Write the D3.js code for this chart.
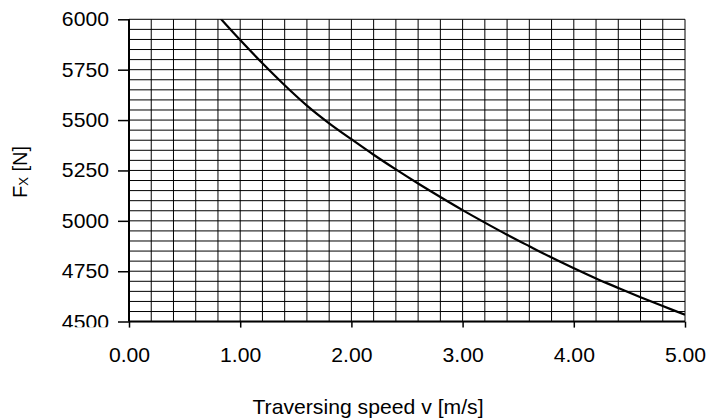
<!DOCTYPE html>
<html>
<head>
<meta charset="utf-8">
<script src="https://cdn.jsdelivr.net/npm/d3@7"></script>
<style>
  html, body { margin: 0; padding: 0; background: #fff; }
  svg { display: block; }
  text { font-family: "Liberation Sans", Arial, sans-serif; fill: #000; }
</style>
</head>
<body>
<svg id="chart" width="726" height="418"></svg>
<script>
// ---- data ----
const speeds = [0.8, 1.0, 1.2, 1.4, 1.6, 1.8, 2.0, 2.2, 2.4, 2.6, 2.8, 3.0,
                3.2, 3.4, 3.6, 3.8, 4.0, 4.2, 4.4, 4.6, 4.8, 5.0];
const forces = [6018, 5897, 5782, 5673, 5572, 5484, 5405, 5328, 5255, 5185, 5118, 5053,
                4991, 4931, 4874, 4818, 4765, 4714, 4667, 4621, 4577, 4534];
const xTicks = [0, 1, 2, 3, 4, 5];
const yTicks = [4500, 4750, 5000, 5250, 5500, 5750, 6000];
const xTitle = "Traversing speed v [m/s]";

(function () {
// ---- layout ----
const svg = d3.select("#chart");
const pLeft = 129, pRight = 685, pTop = 19.3, pBottom = 321.6;
const x = d3.scaleLinear().domain([0, 5]).range([pLeft, pRight]);
const y = d3.scaleLinear().domain([4500, 6000]).range([pBottom, pTop]);
const fontSize = 20, stretch = 1.06;

// grid
const vGrid = d3.range(0, 5.0001, 0.2);
const hGrid = d3.range(4500, 6000.01, 50);
const grid = svg.append("g").attr("stroke", "#000").attr("stroke-width", 1);
grid.selectAll("line.v").data(vGrid).join("line").attr("class", "v")
  .attr("x1", d => x(d)).attr("x2", d => x(d))
  .attr("y1", pTop).attr("y2", pBottom);
grid.selectAll("line.h").data(hGrid).join("line").attr("class", "h")
  .attr("x1", pLeft).attr("x2", pRight)
  .attr("y1", d => y(d)).attr("y2", d => y(d));

// curve
svg.append("clipPath").attr("id", "plotClip")
  .append("rect").attr("x", pLeft).attr("y", pTop)
  .attr("width", pRight - pLeft).attr("height", pBottom - pTop);
const line = d3.line()
  .x((d, i) => x(speeds[i]))
  .y(d => y(d))
  .curve(d3.curveCatmullRom.alpha(0.5));
svg.append("path")
  .datum(forces)
  .attr("clip-path", "url(#plotClip)")
  .attr("fill", "none")
  .attr("stroke", "#000")
  .attr("stroke-width", 2.2)
  .attr("d", line);

// axes
const yAxis = d3.axisLeft(y).tickValues(yTicks).tickSize(11).tickPadding(9)
  .tickFormat(d3.format("d"));
const xAxis = d3.axisBottom(x).tickValues(xTicks).tickSize(6).tickPadding(20)
  .tickFormat(d3.format(".2f"));

svg.append("clipPath").attr("id", "yLabClip")
  .append("rect").attr("x", -140).attr("y", 0).attr("width", 150).attr("height", 327.3);

const gy = svg.append("g").attr("transform", `translate(${pLeft},0)`).call(yAxis)
  .attr("clip-path", "url(#yLabClip)");
const gx = svg.append("g").attr("transform", `translate(0,${pBottom})`).call(xAxis);

[gx, gy].forEach(g => {
  g.select(".domain").attr("stroke", "#000").attr("stroke-width", 2);
  g.selectAll(".tick line").attr("stroke", "#000").attr("stroke-width", 1.5);
  g.selectAll(".tick text")
    .attr("font-size", fontSize)
    .attr("font-family", "Liberation Sans, Arial, sans-serif")
    .attr("fill", "#000");
});
gy.select(".domain").attr("d", `M0,${pTop}V${pBottom}`);
gx.select(".domain").attr("d", `M${pLeft},0H${pRight}`);

// stretch tick labels horizontally a bit
gy.selectAll(".tick text").each(function () {
  const t = d3.select(this);
  const tx = +t.attr("x");
  t.attr("transform", `translate(${tx},0) scale(${stretch},1) translate(${-tx},0)`);
});
gx.selectAll(".tick text").attr("transform", `scale(${stretch},1)`);

// axis titles
svg.append("text")
  .attr("x", 0).attr("y", 0)
  .attr("transform", `translate(368,414) scale(${stretch},1)`)
  .attr("text-anchor", "middle")
  .attr("font-size", fontSize)
  .text(xTitle);

const yt = svg.append("text")
  .attr("transform", `translate(26.7,172) rotate(-90)`)
  .attr("text-anchor", "middle")
  .attr("font-size", fontSize);
yt.append("tspan").text("F");
yt.append("tspan").attr("font-size", 13).attr("dy", 1.6).text("X");
yt.append("tspan").attr("dy", -1.6).text(" [N]");
})();
</script>
</body>
</html>
